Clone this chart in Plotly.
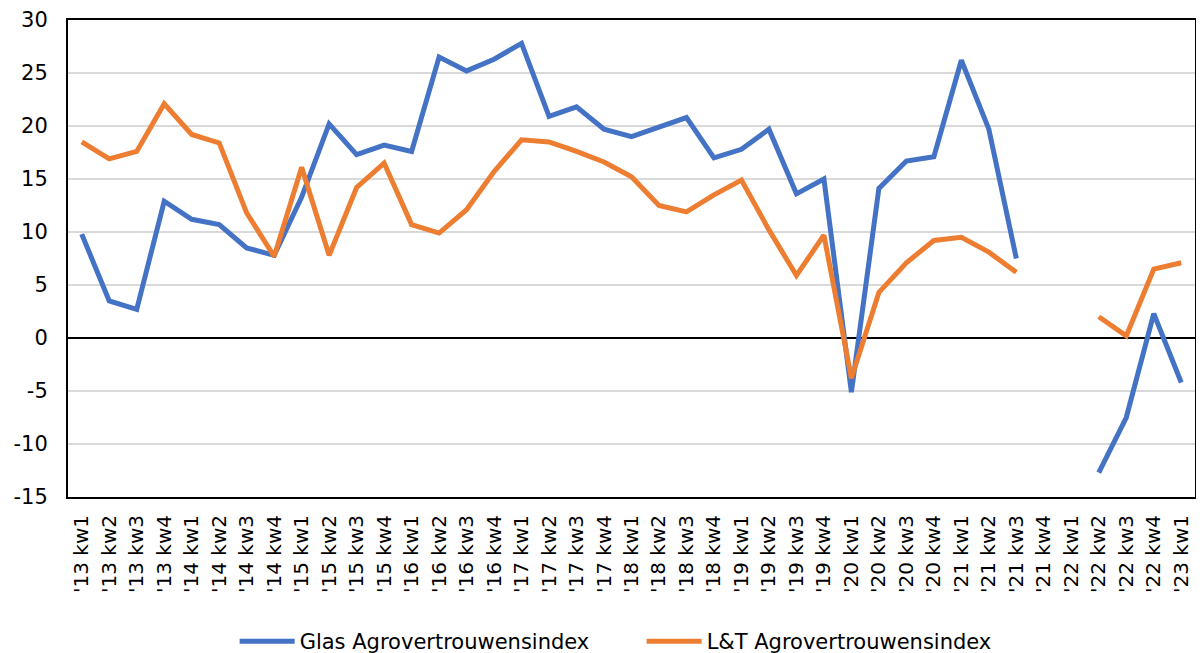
import plotly.graph_objects as go

categories = [f"'{yy} kw{q}" for yy in range(13, 23) for q in range(1, 5)] + ["'23 kw1"]

glas = [9.8, 3.5, 2.7, 12.9, 11.2, 10.7, 8.5, 7.8,
        13.3, 20.2, 17.3, 18.2, 17.6, 26.5, 25.2, 26.3,
        27.8, 20.9, 21.8, 19.7, 19.0, 19.9, 20.8, 17.0,
        17.8, 19.7, 13.6, 15.0, -5.1, 14.1, 16.7, 17.1,
        26.2, 19.7, 7.5, None, None, -12.7, -7.5, 2.3,
        -4.2]

lt = [18.5, 16.9, 17.6, 22.1, 19.2, 18.4, 11.8, 7.7,
      16.1, 7.8, 14.2, 16.5, 10.7, 9.9, 12.1, 15.7,
      18.7, 18.5, 17.6, 16.6, 15.2, 12.5, 11.9, 13.5,
      14.9, 10.2, 5.9, 9.7, -3.8, 4.3, 7.1, 9.2,
      9.5, 8.1, 6.2, None, None, 2.0, 0.2, 6.5,
      7.1]

y_ticks = [-15, -10, -5, 0, 5, 10, 15, 20, 25, 30]
y_labels = ["-15", "-10", "-5", "0", "5", "10", "15", "20", "25", "30"]

font_family = "Verdana, DejaVu Sans, sans-serif"

fig = go.Figure()
fig.add_trace(go.Scatter(x=categories, y=glas, mode="lines", name="Glas Agrovertrouwensindex",
                         line=dict(color="#4472C4", width=5), connectgaps=False))
fig.add_trace(go.Scatter(x=categories, y=lt, mode="lines", name="L&T Agrovertrouwensindex",
                         line=dict(color="#ED7D31", width=5), connectgaps=False))

# page has an 8px body margin, so the figure is a bit smaller than the window
fig.update_layout(
    width=1196, height=645,
    margin=dict(l=60, r=9, t=12, b=156, autoexpand=False),
    plot_bgcolor="white", paper_bgcolor="white",
    font=dict(family=font_family, size=21, color="black"),
    showlegend=True,
    legend=dict(orientation="h", x=0.509, xanchor="center", y=-0.303, yanchor="middle",
                itemwidth=55, font=dict(size=21), entrywidth=337, entrywidthmode="pixels"),
)
fig.update_xaxes(type="category", range=[-0.5, 40.5], tickangle=-90,
                 showline=True, mirror=True, linecolor="black", linewidth=2,
                 showgrid=False, ticks="", tickfont=dict(size=20), ticklabelstandoff=8)
fig.update_yaxes(range=[-15, 30], tickvals=y_ticks, ticktext=y_labels,
                 showline=True, mirror=True, linecolor="black", linewidth=2,
                 showgrid=True, gridcolor="#d9d9d9", gridwidth=2,
                 zeroline=True, zerolinecolor="black", zerolinewidth=2,
                 ticks="", tickfont=dict(size=21), ticklabelstandoff=14)

fig.write_html("out.html")
